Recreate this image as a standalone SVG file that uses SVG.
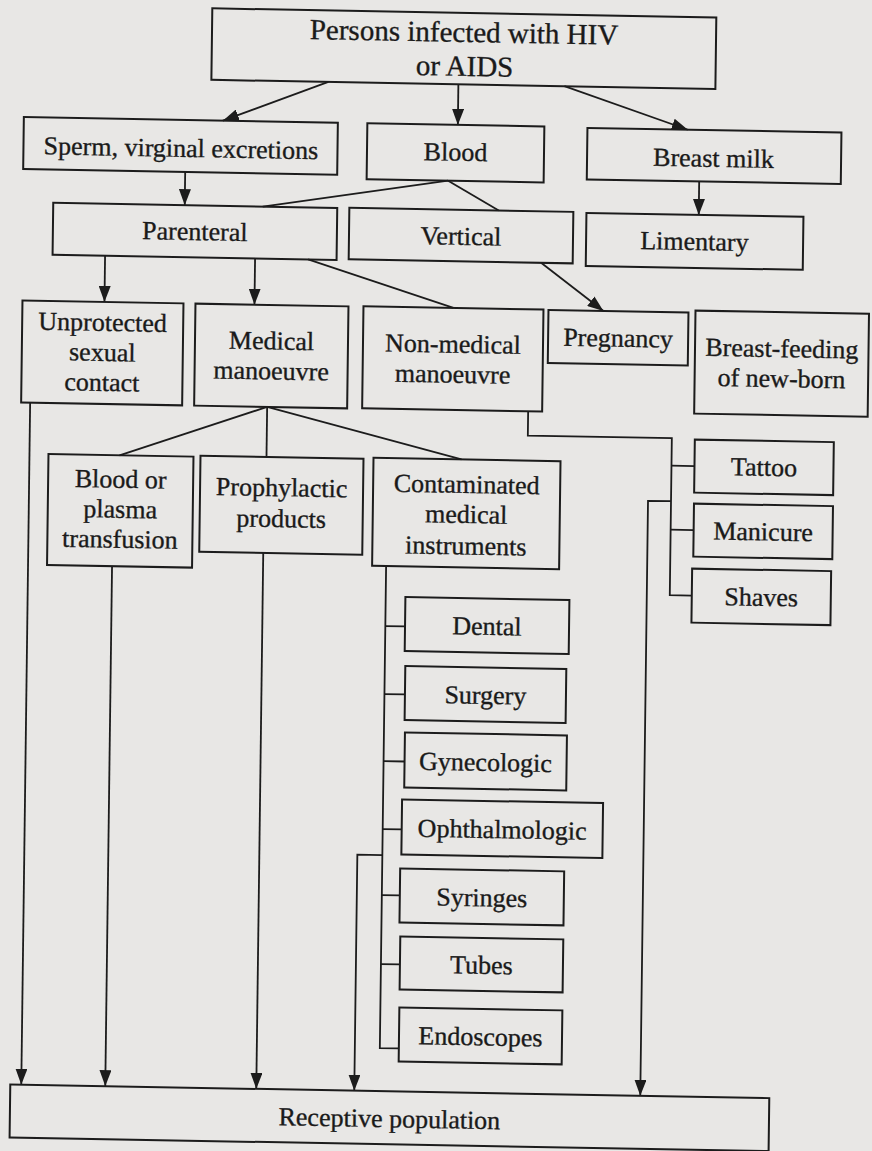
<svg xmlns="http://www.w3.org/2000/svg" width="872" height="1151" viewBox="0 0 872 1151">
  <defs>
    <style>
      .box { fill: none; stroke: #1c1c1c; stroke-width: 2; }
      .lbl { font-family: "Liberation Serif", "Times New Roman", serif; font-size: 26px; fill: #1a1a1a; stroke: #1a1a1a; stroke-width: 0.35; text-anchor: middle; }
      .ttl { font-size: 29px; }
      .wire { fill: none; stroke: #1c1c1c; stroke-width: 1.8; }
      .arr { marker-end: url(#head); }
    </style>
    <marker id="head" markerUnits="userSpaceOnUse" markerWidth="16" markerHeight="12" refX="16" refY="6" orient="auto">
      <path d="M0,0 L16,6 L0,12 z" fill="#1c1c1c"/>
    </marker>
  </defs>

  <rect width="872" height="1151" fill="#e8e7e5"/>

  <!-- printed page is slightly skewed -->
  <g transform="translate(436 575) matrix(1 0.018 -0.013 1 0 0) translate(-436 -575)">

    <g id="connectors">
      <!-- arrows -->
      <path class="wire arr" d="M322,84 L217,124.6"/>
      <path class="wire arr" d="M452,84 L452,124.6"/>
      <path class="wire arr" d="M558,84 L682,125.3"/>
      <path class="wire arr" d="M180,176.6 L180,209.8"/>
      <path class="wire arr" d="M694,176.7 L694,210.3"/>
      <path class="wire arr" d="M101,261.8 L101,308"/>
      <path class="wire arr" d="M251,261.8 L251,308"/>
      <path class="wire arr" d="M537,261 L600,308"/>
      <!-- plain lines -->
      <path class="wire" d="M443,180.6 L258,209.8"/>
      <path class="wire" d="M443,180.6 L494,209.5"/>
      <path class="wire" d="M304,261.8 L450,307.7"/>
      <path class="wire" d="M265,410 L118,461"/>
      <path class="wire" d="M265,410 L265,460"/>
      <path class="wire" d="M265,410 L460,459"/>
      <!-- non-medical bracket -->
      <path class="wire" d="M526,409.7 L526,434 L670,434 L670,591 L692,591"/>
      <path class="wire" d="M670,461.5 L693,461.5"/>
      <path class="wire" d="M670,525.5 L693,525.5"/>
      <!-- contaminated instruments bracket -->
      <path class="wire" d="M386,567 L386,1049 L405,1049"/>
      <path class="wire" d="M386,627 L405.7,627"/>
      <path class="wire" d="M386,695 L406.5,695"/>
      <path class="wire" d="M386,762 L407,762"/>
      <path class="wire" d="M386,830 L405,830"/>
      <path class="wire" d="M386,896 L404,896"/>
      <path class="wire" d="M386,965 L405,965"/>
      <!-- into receptive population -->
      <path class="wire arr" d="M28,410 L28,1092"/>
      <path class="wire arr" d="M112,572 L112,1092"/>
      <path class="wire arr" d="M263,556 L263,1092"/>
      <path class="wire arr" d="M386,856 L361,856 L361,1092"/>
      <path class="wire arr" d="M670,497 L647,497 L647,1092"/>
    </g>

    <g id="n-source">
      <rect class="box" x="205" y="12.5" width="504" height="71.5"/>
      <text class="lbl ttl" x="457" y="41.5">Persons infected with HIV</text>
      <text class="lbl ttl" x="458" y="75.5">or AIDS</text>
    </g>
    <g id="n-sperm">
      <rect class="box" x="18" y="124.6" width="314" height="52"/>
      <text class="lbl" x="175.5" y="161.5">Sperm, virginal excretions</text>
    </g>
    <g id="n-blood">
      <rect class="box" x="361.5" y="124.6" width="177" height="56"/>
      <text class="lbl" x="450" y="160.5">Blood</text>
    </g>
    <g id="n-breast-milk">
      <rect class="box" x="581.6" y="125.3" width="254" height="51.5"/>
      <text class="lbl" x="708" y="162">Breast milk</text>
    </g>
    <g id="n-parenteral">
      <rect class="box" x="48.5" y="209.8" width="284" height="52"/>
      <text class="lbl" x="190.5" y="244.5">Parenteral</text>
    </g>
    <g id="n-vertical">
      <rect class="box" x="344.6" y="209.5" width="224" height="51.5"/>
      <text class="lbl" x="456.6" y="244.5">Vertical</text>
    </g>
    <g id="n-limentary">
      <rect class="box" x="581.7" y="210.3" width="217" height="53"/>
      <text class="lbl" x="690" y="245.5">Limentary</text>
    </g>
    <g id="n-unprotected">
      <rect class="box" x="19" y="308" width="161" height="102"/>
      <text class="lbl" x="99.5" y="337">Unprotected</text>
      <text class="lbl" x="99.5" y="367">sexual</text>
      <text class="lbl" x="99.5" y="397">contact</text>
    </g>
    <g id="n-medical">
      <rect class="box" x="192" y="308" width="153" height="102"/>
      <text class="lbl" x="268.5" y="352.5">Medical</text>
      <text class="lbl" x="268.5" y="382.5">manoeuvre</text>
    </g>
    <g id="n-non-medical">
      <rect class="box" x="360" y="307.7" width="180" height="102"/>
      <text class="lbl" x="450" y="352.5">Non-medical</text>
      <text class="lbl" x="450" y="382.5">manoeuvre</text>
    </g>
    <g id="n-pregnancy">
      <rect class="box" x="545" y="308" width="140" height="53"/>
      <text class="lbl" x="615" y="343.5">Pregnancy</text>
    </g>
    <g id="n-breast-feeding">
      <rect class="box" x="692" y="306" width="173.5" height="103"/>
      <text class="lbl" x="778.8" y="351">Breast-feeding</text>
      <text class="lbl" x="778.8" y="381">of new-born</text>
    </g>
    <g id="n-transfusion">
      <rect class="box" x="47" y="461" width="145" height="111"/>
      <text class="lbl" x="119.5" y="493.5">Blood or</text>
      <text class="lbl" x="119.5" y="523.5">plasma</text>
      <text class="lbl" x="119.5" y="553.5">transfusion</text>
    </g>
    <g id="n-prophylactic">
      <rect class="box" x="199" y="460" width="163" height="96"/>
      <text class="lbl" x="280.5" y="499">Prophylactic</text>
      <text class="lbl" x="280.5" y="530">products</text>
    </g>
    <g id="n-contaminated">
      <rect class="box" x="372" y="459" width="187" height="108"/>
      <text class="lbl" x="465.5" y="492.5">Contaminated</text>
      <text class="lbl" x="465.5" y="522.5">medical</text>
      <text class="lbl" x="465.5" y="554">instruments</text>
    </g>
    <g id="n-tattoo">
      <rect class="box" x="693" y="435" width="139" height="53"/>
      <text class="lbl" x="762.5" y="470">Tattoo</text>
    </g>
    <g id="n-manicure">
      <rect class="box" x="693" y="499" width="139" height="53"/>
      <text class="lbl" x="762.5" y="534.5">Manicure</text>
    </g>
    <g id="n-shaves">
      <rect class="box" x="692" y="564" width="139" height="54"/>
      <text class="lbl" x="761.5" y="600">Shaves</text>
    </g>
    <g id="n-dental">
      <rect class="box" x="405.7" y="597.6" width="164" height="54"/>
      <text class="lbl" x="487.7" y="634">Dental</text>
    </g>
    <g id="n-surgery">
      <rect class="box" x="406.5" y="666.6" width="161" height="54"/>
      <text class="lbl" x="487" y="703">Surgery</text>
    </g>
    <g id="n-gynecologic">
      <rect class="box" x="407" y="733" width="162" height="55"/>
      <text class="lbl" x="488" y="770">Gynecologic</text>
    </g>
    <g id="n-ophthalmologic">
      <rect class="box" x="405" y="800" width="201" height="55"/>
      <text class="lbl" x="505.5" y="837">Ophthalmologic</text>
    </g>
    <g id="n-syringes">
      <rect class="box" x="404" y="869" width="164" height="54"/>
      <text class="lbl" x="486" y="905.5">Syringes</text>
    </g>
    <g id="n-tubes">
      <rect class="box" x="405" y="937" width="163" height="53"/>
      <text class="lbl" x="486.5" y="973">Tubes</text>
    </g>
    <g id="n-endoscopes">
      <rect class="box" x="405" y="1008" width="163" height="54"/>
      <text class="lbl" x="486.5" y="1044.5">Endoscopes</text>
    </g>
    <g id="n-receptive">
      <rect class="box" x="17" y="1092" width="759" height="53"/>
      <text class="lbl" x="396.5" y="1128">Receptive population</text>
    </g>
  </g>
</svg>
